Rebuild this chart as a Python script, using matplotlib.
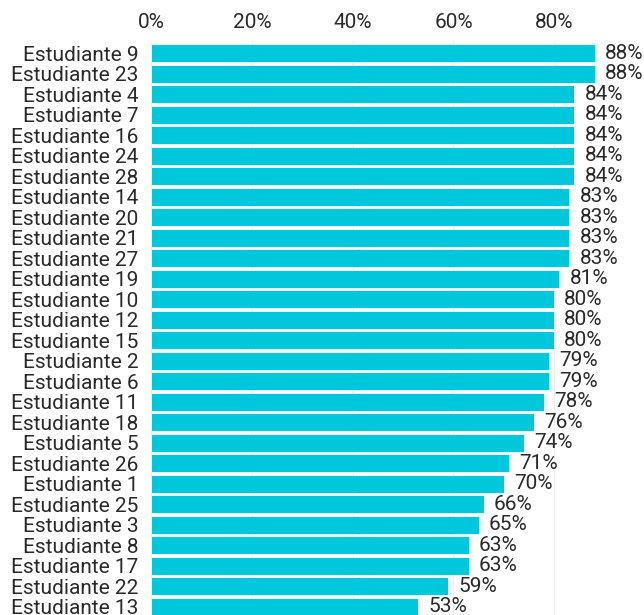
import matplotlib
matplotlib.use("Agg")
import matplotlib.pyplot as plt
from matplotlib.ticker import FuncFormatter

# Data
students = ["Estudiante 9", "Estudiante 23", "Estudiante 4", "Estudiante 7",
            "Estudiante 16", "Estudiante 24", "Estudiante 28", "Estudiante 14",
            "Estudiante 20", "Estudiante 21", "Estudiante 27", "Estudiante 19",
            "Estudiante 10", "Estudiante 12", "Estudiante 15", "Estudiante 2",
            "Estudiante 6", "Estudiante 11", "Estudiante 18", "Estudiante 5",
            "Estudiante 26", "Estudiante 1", "Estudiante 25", "Estudiante 3",
            "Estudiante 8", "Estudiante 17", "Estudiante 22", "Estudiante 13"]
scores = [88, 88, 84, 84, 84, 84, 84, 83, 83, 83, 83, 81, 80, 80, 80, 79,
          79, 78, 76, 74, 71, 70, 66, 65, 63, 63, 59, 53]
ticks = [0, 20, 40, 60, 80]

plt.rcParams['font.family'] = ['Roboto', 'DejaVu Sans']
bar_color = '#00C8DC'
text_color = '#2a2a2a'
fs = 15

fig = plt.figure(figsize=(6.44, 6.15), dpi=100)
ax = fig.add_axes([151 / 644, 0.0, 1 - 151 / 644, 1 - 42 / 615])

ypos = list(range(len(students)))
ax.barh(ypos, scores, height=0.88, color=bar_color, edgecolor='white',
        linewidth=0.6, zorder=2)

for y, v in zip(ypos, scores):
    ax.text(v + 2.0, y, f"{v}%", va='center', ha='left', fontsize=fs,
            color=text_color)

ax.set_xlim(0, 97.8)
ax.set_ylim(27.41, -0.54)
ax.set_yticks(ypos)
ax.set_yticklabels(students, fontsize=fs, color=text_color)
ax.set_xticks(ticks)
ax.xaxis.set_major_formatter(FuncFormatter(lambda x, p: f"{x:.0f}%"))
ax.xaxis.tick_top()
ax.tick_params(axis='x', labelsize=fs, colors=text_color, length=0, pad=7)
ax.tick_params(axis='y', length=0, pad=9)
ax.grid(axis='x', color='#eeeeee', linewidth=1, zorder=0)
for s in ax.spines.values():
    s.set_visible(False)

fig.savefig("out.png", dpi=100)
